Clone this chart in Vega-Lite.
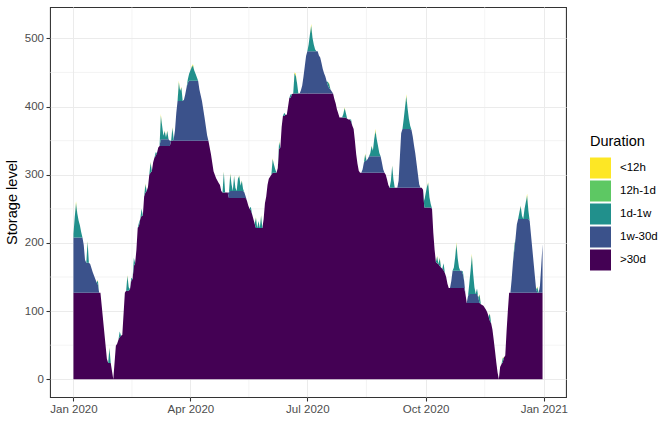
{
  "$schema": "https://vega.github.io/schema/vega-lite/v6.json",
  "autosize": {"type": "none"},
  "padding": {"left": 50, "top": 7, "right": 106, "bottom": 25},
  "width": 516,
  "height": 390,
  "background": "white",
  "config": {
    "font": "Liberation Sans",
    "view": {"stroke": "#333333", "strokeWidth": 1.07},
    "axis": {
      "domain": false,
      "gridColor": "#EBEBEB",
      "gridWidth": 1.07,
      "tickColor": "#333333",
      "tickWidth": 1.07,
      "tickSize": 4,
      "labelColor": "#4D4D4D",
      "labelFontSize": 11.5,
      "labelFont": "Liberation Sans",
      "labelFlush": false,
      "titleColor": "#000000",
      "titleFontSize": 14.6,
      "titleFontWeight": "normal",
      "titleFont": "Liberation Sans"
    },
    "legend": {
      "orient": "none",
      "legendX": 540,
      "legendY": 128,
      "symbolType": "square",
      "symbolSize": 441,
      "symbolStrokeWidth": 0,
      "symbolOpacity": 1,
      "rowPadding": 2,
      "labelOffset": 9,
      "labelFontSize": 11.5,
      "labelColor": "#000000",
      "labelFont": "Liberation Sans",
      "titleFontSize": 14.5,
      "titleFontWeight": "normal",
      "titleColor": "#000000",
      "titleFont": "Liberation Sans",
      "titlePadding": 8
    }
  },
  "layer": [
    {
      "data": {"values": [
        {"t": "2020-02-15T12:00:00Z"},
        {"t": "2020-05-16T12:00:00Z"},
        {"t": "2020-08-16T00:00:00Z"},
        {"t": "2020-11-16T00:00:00Z"}
      ]},
      "mark": {"type": "rule", "color": "#EBEBEB", "strokeWidth": 0.53},
      "encoding": {
        "x": {
          "field": "t",
          "type": "temporal",
          "scale": {"type": "utc", "domain": [
            {"year": 2019, "month": 12, "date": 13, "hours": 18, "utc": true},
            {"year": 2021, "month": 1, "date": 18, "hours": 6, "utc": true}
          ]},
          "axis": {"title": null, "format": "%b %Y", "tickCount": {"interval": "month", "step": 3}, "labelPadding": 2}
        }
      }
    },
    {
      "data": {"values": [{"y": 50}, {"y": 150}, {"y": 250}, {"y": 350}, {"y": 450}]},
      "mark": {"type": "rule", "color": "#EBEBEB", "strokeWidth": 0.53},
      "encoding": {
        "y": {
          "field": "y",
          "type": "quantitative",
          "scale": {"domain": [-26, 546], "nice": false, "zero": false},
          "axis": {"title": "Storage level", "values": [0, 100, 200, 300, 400, 500], "labelPadding": 2.5, "titlePadding": 5}
        }
      }
    },
    {
      "data": {"values": [
{"t":"2020-01-01","a":127,"b":81,"c":5,"d":0,"e":0},
{"t":"2020-01-02","a":127,"b":81,"c":30,"d":0,"e":0},
{"t":"2020-01-03","a":127,"b":81,"c":50,"d":1,"e":2},
{"t":"2020-01-04","a":127,"b":81,"c":35,"d":0,"e":0},
{"t":"2020-01-05","a":127,"b":81,"c":25,"d":0,"e":0},
{"t":"2020-01-06","a":127,"b":81,"c":18,"d":0,"e":0},
{"t":"2020-01-07","a":127,"b":81,"c":8,"d":0,"e":0},
{"t":"2020-01-08","a":127,"b":81,"c":0,"d":0,"e":0},
{"t":"2020-01-09","a":127,"b":70,"c":0,"d":0,"e":0},
{"t":"2020-01-10","a":127,"b":48,"c":0,"d":0,"e":0},
{"t":"2020-01-11","a":127,"b":44,"c":0,"d":0,"e":0},
{"t":"2020-01-12","a":127,"b":44,"c":31,"d":0,"e":1},
{"t":"2020-01-13","a":127,"b":44,"c":0,"d":0,"e":0},
{"t":"2020-01-14","a":127,"b":42,"c":0,"d":0,"e":0},
{"t":"2020-01-16","a":127,"b":30,"c":0,"d":0,"e":0},
{"t":"2020-01-18","a":127,"b":20,"c":0,"d":0,"e":0},
{"t":"2020-01-19","a":127,"b":15,"c":0,"d":0,"e":0},
{"t":"2020-01-20","a":127,"b":12,"c":6,"d":0,"e":1},
{"t":"2020-01-21","a":127,"b":0,"c":0,"d":0,"e":0},
{"t":"2020-01-22","a":127,"b":0,"c":0,"d":0,"e":0},
{"t":"2020-01-27","a":30,"b":0,"c":0,"d":0,"e":0},
{"t":"2020-01-28","a":24,"b":0,"c":0,"d":0,"e":0},
{"t":"2020-01-29","a":24,"b":0,"c":22,"d":0,"e":1},
{"t":"2020-01-30","a":24,"b":0,"c":0,"d":0,"e":0},
{"t":"2020-02-01","a":0,"b":0,"c":0,"d":0,"e":0},
{"t":"2020-02-03","a":49,"b":0,"c":0,"d":0,"e":0},
{"t":"2020-02-04","a":52,"b":0,"c":0,"d":0,"e":0},
{"t":"2020-02-05","a":58,"b":0,"c":0,"d":0,"e":0},
{"t":"2020-02-06","a":62,"b":0,"c":8,"d":0,"e":0},
{"t":"2020-02-07","a":64,"b":0,"c":0,"d":0,"e":0},
{"t":"2020-02-08","a":65,"b":0,"c":0,"d":0,"e":0},
{"t":"2020-02-10","a":127,"b":0,"c":0,"d":0,"e":0},
{"t":"2020-02-11","a":130,"b":0,"c":0,"d":0,"e":0},
{"t":"2020-02-12","a":130,"b":0,"c":22,"d":0,"e":1},
{"t":"2020-02-13","a":130,"b":0,"c":5,"d":0,"e":0},
{"t":"2020-02-14","a":132,"b":0,"c":0,"d":0,"e":0},
{"t":"2020-02-15","a":145,"b":0,"c":4,"d":0,"e":0},
{"t":"2020-02-16","a":147,"b":0,"c":0,"d":0,"e":0},
{"t":"2020-02-17","a":166,"b":0,"c":12,"d":0,"e":0},
{"t":"2020-02-18","a":170,"b":0,"c":0,"d":0,"e":0},
{"t":"2020-02-19","a":190,"b":0,"c":0,"d":0,"e":0},
{"t":"2020-02-20","a":222,"b":0,"c":0,"d":0,"e":0},
{"t":"2020-02-21","a":225,"b":0,"c":5,"d":0,"e":0},
{"t":"2020-02-22","a":235,"b":0,"c":0,"d":0,"e":0},
{"t":"2020-02-23","a":240,"b":0,"c":10,"d":0,"e":0},
{"t":"2020-02-24","a":240,"b":0,"c":0,"d":0,"e":0},
{"t":"2020-02-25","a":268,"b":0,"c":0,"d":0,"e":0},
{"t":"2020-02-26","a":274,"b":0,"c":12,"d":0,"e":1},
{"t":"2020-02-27","a":276,"b":0,"c":0,"d":0,"e":0},
{"t":"2020-02-28","a":282,"b":0,"c":0,"d":0,"e":0},
{"t":"2020-02-29","a":300,"b":0,"c":0,"d":0,"e":0},
{"t":"2020-03-01","a":303,"b":0,"c":15,"d":0,"e":1},
{"t":"2020-03-02","a":305,"b":0,"c":0,"d":0,"e":0},
{"t":"2020-03-03","a":318,"b":0,"c":0,"d":0,"e":0},
{"t":"2020-03-04","a":325,"b":0,"c":0,"d":0,"e":0},
{"t":"2020-03-05","a":328,"b":0,"c":5,"d":0,"e":0},
{"t":"2020-03-06","a":332,"b":0,"c":0,"d":0,"e":0},
{"t":"2020-03-07","a":340,"b":0,"c":0,"d":0,"e":0},
{"t":"2020-03-08","a":342,"b":0,"c":0,"d":0,"e":0},
{"t":"2020-03-09","a":342,"b":10,"c":34,"d":1,"e":2},
{"t":"2020-03-10","a":342,"b":10,"c":20,"d":0,"e":0},
{"t":"2020-03-11","a":342,"b":10,"c":5,"d":0,"e":0},
{"t":"2020-03-12","a":342,"b":10,"c":12,"d":0,"e":1},
{"t":"2020-03-13","a":342,"b":10,"c":3,"d":0,"e":0},
{"t":"2020-03-14","a":342,"b":10,"c":12,"d":0,"e":1},
{"t":"2020-03-15","a":342,"b":10,"c":0,"d":0,"e":0},
{"t":"2020-03-16","a":342,"b":8,"c":0,"d":0,"e":0},
{"t":"2020-03-17","a":350,"b":0,"c":0,"d":0,"e":0},
{"t":"2020-03-18","a":350,"b":0,"c":19,"d":0,"e":1},
{"t":"2020-03-19","a":350,"b":2,"c":0,"d":0,"e":0},
{"t":"2020-03-20","a":350,"b":15,"c":0,"d":0,"e":0},
{"t":"2020-03-21","a":350,"b":40,"c":0,"d":0,"e":0},
{"t":"2020-03-22","a":350,"b":58,"c":0,"d":0,"e":0},
{"t":"2020-03-23","a":350,"b":58,"c":27,"d":1,"e":2},
{"t":"2020-03-24","a":350,"b":58,"c":15,"d":0,"e":0},
{"t":"2020-03-25","a":350,"b":58,"c":20,"d":0,"e":1},
{"t":"2020-03-26","a":350,"b":58,"c":0,"d":0,"e":0},
{"t":"2020-03-27","a":350,"b":60,"c":0,"d":0,"e":0},
{"t":"2020-03-28","a":350,"b":68,"c":0,"d":0,"e":0},
{"t":"2020-03-29","a":350,"b":78,"c":0,"d":0,"e":0},
{"t":"2020-03-30","a":350,"b":85,"c":5,"d":0,"e":0},
{"t":"2020-03-31","a":350,"b":88,"c":10,"d":0,"e":0},
{"t":"2020-04-01","a":350,"b":88,"c":15,"d":0,"e":0},
{"t":"2020-04-02","a":350,"b":88,"c":20,"d":0,"e":1},
{"t":"2020-04-03","a":350,"b":88,"c":22,"d":1,"e":1},
{"t":"2020-04-04","a":350,"b":88,"c":15,"d":0,"e":0},
{"t":"2020-04-05","a":350,"b":88,"c":10,"d":0,"e":0},
{"t":"2020-04-06","a":350,"b":88,"c":5,"d":0,"e":0},
{"t":"2020-04-07","a":350,"b":88,"c":0,"d":0,"e":0},
{"t":"2020-04-08","a":350,"b":75,"c":0,"d":0,"e":0},
{"t":"2020-04-10","a":350,"b":58,"c":0,"d":0,"e":0},
{"t":"2020-04-12","a":350,"b":34,"c":0,"d":0,"e":0},
{"t":"2020-04-14","a":350,"b":8,"c":0,"d":0,"e":0},
{"t":"2020-04-15","a":350,"b":0,"c":0,"d":0,"e":0},
{"t":"2020-04-17","a":330,"b":0,"c":0,"d":0,"e":0},
{"t":"2020-04-19","a":305,"b":0,"c":0,"d":0,"e":0},
{"t":"2020-04-21","a":295,"b":0,"c":0,"d":0,"e":0},
{"t":"2020-04-23","a":288,"b":0,"c":0,"d":0,"e":0},
{"t":"2020-04-24","a":285,"b":0,"c":0,"d":0,"e":0},
{"t":"2020-04-25","a":276,"b":0,"c":0,"d":0,"e":0},
{"t":"2020-04-26","a":274,"b":0,"c":0,"d":0,"e":0},
{"t":"2020-04-27","a":274,"b":0,"c":30,"d":0,"e":1},
{"t":"2020-04-28","a":274,"b":0,"c":0,"d":0,"e":0},
{"t":"2020-04-30","a":274,"b":0,"c":0,"d":0,"e":0},
{"t":"2020-05-01","a":266,"b":8,"c":0,"d":0,"e":0},
{"t":"2020-05-02","a":266,"b":10,"c":25,"d":0,"e":1},
{"t":"2020-05-03","a":266,"b":10,"c":10,"d":0,"e":0},
{"t":"2020-05-04","a":266,"b":10,"c":0,"d":0,"e":0},
{"t":"2020-05-05","a":266,"b":10,"c":22,"d":0,"e":1},
{"t":"2020-05-06","a":266,"b":10,"c":5,"d":0,"e":0},
{"t":"2020-05-07","a":266,"b":10,"c":0,"d":0,"e":0},
{"t":"2020-05-08","a":266,"b":10,"c":18,"d":0,"e":0},
{"t":"2020-05-09","a":266,"b":10,"c":22,"d":0,"e":1},
{"t":"2020-05-10","a":266,"b":10,"c":8,"d":0,"e":0},
{"t":"2020-05-11","a":266,"b":10,"c":15,"d":0,"e":1},
{"t":"2020-05-12","a":266,"b":10,"c":3,"d":0,"e":0},
{"t":"2020-05-13","a":266,"b":8,"c":0,"d":0,"e":0},
{"t":"2020-05-14","a":266,"b":2,"c":0,"d":0,"e":0},
{"t":"2020-05-15","a":262,"b":0,"c":0,"d":0,"e":0},
{"t":"2020-05-16","a":255,"b":0,"c":0,"d":0,"e":0},
{"t":"2020-05-17","a":250,"b":0,"c":0,"d":0,"e":0},
{"t":"2020-05-18","a":248,"b":0,"c":5,"d":0,"e":0},
{"t":"2020-05-19","a":242,"b":0,"c":0,"d":0,"e":0},
{"t":"2020-05-20","a":235,"b":0,"c":0,"d":0,"e":0},
{"t":"2020-05-21","a":228,"b":0,"c":0,"d":0,"e":0},
{"t":"2020-05-22","a":222,"b":0,"c":15,"d":0,"e":1},
{"t":"2020-05-23","a":222,"b":0,"c":0,"d":0,"e":0},
{"t":"2020-05-24","a":222,"b":0,"c":10,"d":0,"e":0},
{"t":"2020-05-25","a":222,"b":0,"c":0,"d":0,"e":0},
{"t":"2020-05-26","a":222,"b":0,"c":18,"d":0,"e":1},
{"t":"2020-05-27","a":222,"b":0,"c":0,"d":0,"e":0},
{"t":"2020-05-28","a":235,"b":0,"c":0,"d":0,"e":0},
{"t":"2020-05-29","a":258,"b":0,"c":0,"d":0,"e":0},
{"t":"2020-05-30","a":268,"b":0,"c":0,"d":0,"e":0},
{"t":"2020-05-31","a":285,"b":0,"c":0,"d":0,"e":0},
{"t":"2020-06-01","a":294,"b":0,"c":0,"d":0,"e":0},
{"t":"2020-06-02","a":297,"b":0,"c":0,"d":0,"e":0},
{"t":"2020-06-03","a":300,"b":0,"c":0,"d":0,"e":0},
{"t":"2020-06-04","a":303,"b":0,"c":20,"d":0,"e":1},
{"t":"2020-06-05","a":303,"b":0,"c":12,"d":0,"e":0},
{"t":"2020-06-06","a":303,"b":0,"c":5,"d":0,"e":0},
{"t":"2020-06-07","a":303,"b":0,"c":0,"d":0,"e":0},
{"t":"2020-06-08","a":310,"b":0,"c":0,"d":0,"e":0},
{"t":"2020-06-09","a":338,"b":0,"c":10,"d":0,"e":1},
{"t":"2020-06-10","a":340,"b":0,"c":0,"d":0,"e":0},
{"t":"2020-06-11","a":370,"b":0,"c":0,"d":0,"e":0},
{"t":"2020-06-12","a":386,"b":0,"c":0,"d":0,"e":0},
{"t":"2020-06-13","a":386,"b":0,"c":5,"d":0,"e":0},
{"t":"2020-06-14","a":388,"b":0,"c":0,"d":0,"e":0},
{"t":"2020-06-15","a":388,"b":0,"c":0,"d":0,"e":0},
{"t":"2020-06-16","a":400,"b":0,"c":0,"d":0,"e":0},
{"t":"2020-06-17","a":413,"b":0,"c":0,"d":0,"e":0},
{"t":"2020-06-18","a":413,"b":0,"c":5,"d":0,"e":0},
{"t":"2020-06-19","a":418,"b":0,"c":0,"d":0,"e":0},
{"t":"2020-06-20","a":419,"b":0,"c":0,"d":0,"e":0},
{"t":"2020-06-21","a":419,"b":0,"c":30,"d":0,"e":1},
{"t":"2020-06-22","a":419,"b":0,"c":26,"d":1,"e":2},
{"t":"2020-06-23","a":419,"b":0,"c":15,"d":0,"e":0},
{"t":"2020-06-24","a":419,"b":0,"c":0,"d":0,"e":0},
{"t":"2020-06-25","a":419,"b":0,"c":0,"d":0,"e":0},
{"t":"2020-06-26","a":419,"b":5,"c":0,"d":0,"e":0},
{"t":"2020-06-27","a":419,"b":12,"c":0,"d":0,"e":0},
{"t":"2020-06-28","a":419,"b":25,"c":0,"d":0,"e":0},
{"t":"2020-06-29","a":419,"b":40,"c":0,"d":0,"e":0},
{"t":"2020-06-30","a":419,"b":55,"c":0,"d":0,"e":0},
{"t":"2020-07-01","a":419,"b":62,"c":0,"d":0,"e":0},
{"t":"2020-07-02","a":419,"b":62,"c":10,"d":0,"e":0},
{"t":"2020-07-03","a":419,"b":62,"c":25,"d":0,"e":0},
{"t":"2020-07-04","a":419,"b":62,"c":37,"d":1,"e":2},
{"t":"2020-07-05","a":419,"b":62,"c":20,"d":0,"e":0},
{"t":"2020-07-06","a":419,"b":62,"c":10,"d":0,"e":0},
{"t":"2020-07-07","a":419,"b":62,"c":3,"d":0,"e":0},
{"t":"2020-07-08","a":419,"b":62,"c":0,"d":0,"e":0},
{"t":"2020-07-09","a":419,"b":62,"c":0,"d":0,"e":0},
{"t":"2020-07-10","a":419,"b":56,"c":0,"d":0,"e":0},
{"t":"2020-07-11","a":419,"b":53,"c":0,"d":0,"e":0},
{"t":"2020-07-12","a":419,"b":45,"c":0,"d":0,"e":0},
{"t":"2020-07-13","a":419,"b":36,"c":0,"d":0,"e":0},
{"t":"2020-07-14","a":419,"b":30,"c":0,"d":0,"e":0},
{"t":"2020-07-15","a":419,"b":25,"c":0,"d":0,"e":0},
{"t":"2020-07-16","a":419,"b":18,"c":0,"d":0,"e":0},
{"t":"2020-07-17","a":419,"b":12,"c":5,"d":0,"e":0},
{"t":"2020-07-18","a":419,"b":8,"c":6,"d":0,"e":1},
{"t":"2020-07-19","a":419,"b":6,"c":0,"d":0,"e":0},
{"t":"2020-07-20","a":419,"b":3,"c":0,"d":0,"e":0},
{"t":"2020-07-21","a":419,"b":0,"c":0,"d":0,"e":0},
{"t":"2020-07-22","a":411,"b":0,"c":0,"d":0,"e":0},
{"t":"2020-07-23","a":405,"b":0,"c":0,"d":0,"e":0},
{"t":"2020-07-24","a":396,"b":0,"c":0,"d":0,"e":0},
{"t":"2020-07-25","a":390,"b":0,"c":0,"d":0,"e":0},
{"t":"2020-07-26","a":384,"b":0,"c":0,"d":0,"e":0},
{"t":"2020-07-28","a":384,"b":0,"c":0,"d":0,"e":0},
{"t":"2020-07-29","a":384,"b":0,"c":5,"d":0,"e":0},
{"t":"2020-07-30","a":384,"b":0,"c":14,"d":0,"e":1},
{"t":"2020-07-31","a":384,"b":0,"c":6,"d":0,"e":0},
{"t":"2020-08-01","a":382,"b":0,"c":0,"d":0,"e":0},
{"t":"2020-08-02","a":381,"b":0,"c":0,"d":0,"e":0},
{"t":"2020-08-03","a":381,"b":0,"c":0,"d":0,"e":0},
{"t":"2020-08-04","a":378,"b":0,"c":3,"d":0,"e":0},
{"t":"2020-08-05","a":372,"b":0,"c":0,"d":0,"e":0},
{"t":"2020-08-06","a":367,"b":0,"c":0,"d":0,"e":0},
{"t":"2020-08-07","a":350,"b":0,"c":0,"d":0,"e":0},
{"t":"2020-08-08","a":330,"b":0,"c":0,"d":0,"e":0},
{"t":"2020-08-09","a":316,"b":0,"c":0,"d":0,"e":0},
{"t":"2020-08-10","a":306,"b":0,"c":0,"d":0,"e":0},
{"t":"2020-08-11","a":303,"b":0,"c":0,"d":0,"e":0},
{"t":"2020-08-12","a":303,"b":0,"c":0,"d":0,"e":0},
{"t":"2020-08-13","a":303,"b":5,"c":0,"d":0,"e":0},
{"t":"2020-08-14","a":303,"b":15,"c":0,"d":0,"e":0},
{"t":"2020-08-15","a":303,"b":17,"c":10,"d":0,"e":1},
{"t":"2020-08-16","a":303,"b":18,"c":0,"d":0,"e":0},
{"t":"2020-08-17","a":303,"b":20,"c":0,"d":0,"e":0},
{"t":"2020-08-18","a":303,"b":24,"c":0,"d":0,"e":0},
{"t":"2020-08-19","a":303,"b":24,"c":5,"d":0,"e":0},
{"t":"2020-08-20","a":303,"b":24,"c":15,"d":0,"e":1},
{"t":"2020-08-21","a":303,"b":24,"c":8,"d":0,"e":0},
{"t":"2020-08-22","a":303,"b":24,"c":25,"d":0,"e":0},
{"t":"2020-08-23","a":303,"b":24,"c":37,"d":1,"e":2},
{"t":"2020-08-24","a":303,"b":24,"c":25,"d":0,"e":0},
{"t":"2020-08-25","a":303,"b":24,"c":15,"d":0,"e":0},
{"t":"2020-08-26","a":303,"b":24,"c":5,"d":0,"e":0},
{"t":"2020-08-27","a":303,"b":24,"c":0,"d":0,"e":0},
{"t":"2020-08-28","a":303,"b":15,"c":0,"d":0,"e":0},
{"t":"2020-08-29","a":303,"b":5,"c":0,"d":0,"e":0},
{"t":"2020-08-30","a":303,"b":0,"c":0,"d":0,"e":0},
{"t":"2020-08-31","a":300,"b":0,"c":0,"d":0,"e":0},
{"t":"2020-09-01","a":293,"b":0,"c":0,"d":0,"e":0},
{"t":"2020-09-02","a":285,"b":0,"c":0,"d":0,"e":0},
{"t":"2020-09-03","a":281,"b":0,"c":0,"d":0,"e":0},
{"t":"2020-09-04","a":281,"b":0,"c":10,"d":0,"e":0},
{"t":"2020-09-05","a":281,"b":0,"c":32,"d":0,"e":1},
{"t":"2020-09-06","a":281,"b":0,"c":12,"d":0,"e":0},
{"t":"2020-09-07","a":281,"b":0,"c":0,"d":0,"e":0},
{"t":"2020-09-09","a":281,"b":0,"c":0,"d":0,"e":0},
{"t":"2020-09-10","a":281,"b":10,"c":0,"d":0,"e":0},
{"t":"2020-09-11","a":281,"b":45,"c":0,"d":0,"e":0},
{"t":"2020-09-12","a":281,"b":80,"c":0,"d":0,"e":0},
{"t":"2020-09-13","a":281,"b":86,"c":0,"d":0,"e":0},
{"t":"2020-09-14","a":281,"b":86,"c":15,"d":0,"e":0},
{"t":"2020-09-15","a":281,"b":86,"c":32,"d":0,"e":0},
{"t":"2020-09-16","a":281,"b":86,"c":48,"d":1,"e":2},
{"t":"2020-09-17","a":281,"b":86,"c":30,"d":0,"e":0},
{"t":"2020-09-18","a":281,"b":86,"c":15,"d":0,"e":0},
{"t":"2020-09-19","a":281,"b":86,"c":5,"d":0,"e":0},
{"t":"2020-09-20","a":281,"b":85,"c":0,"d":0,"e":0},
{"t":"2020-09-21","a":281,"b":75,"c":0,"d":0,"e":0},
{"t":"2020-09-22","a":281,"b":62,"c":0,"d":0,"e":0},
{"t":"2020-09-23","a":281,"b":50,"c":0,"d":0,"e":0},
{"t":"2020-09-24","a":281,"b":35,"c":0,"d":0,"e":0},
{"t":"2020-09-25","a":281,"b":20,"c":0,"d":0,"e":0},
{"t":"2020-09-26","a":281,"b":5,"c":0,"d":0,"e":0},
{"t":"2020-09-27","a":281,"b":0,"c":0,"d":0,"e":0},
{"t":"2020-09-28","a":281,"b":0,"c":0,"d":0,"e":0},
{"t":"2020-09-29","a":278,"b":0,"c":0,"d":0,"e":0},
{"t":"2020-09-30","a":252,"b":0,"c":10,"d":0,"e":0},
{"t":"2020-10-01","a":252,"b":0,"c":20,"d":0,"e":0},
{"t":"2020-10-02","a":252,"b":0,"c":30,"d":0,"e":0},
{"t":"2020-10-03","a":252,"b":0,"c":36,"d":0,"e":1},
{"t":"2020-10-04","a":252,"b":0,"c":15,"d":0,"e":0},
{"t":"2020-10-05","a":252,"b":0,"c":5,"d":0,"e":0},
{"t":"2020-10-06","a":250,"b":0,"c":0,"d":0,"e":0},
{"t":"2020-10-07","a":215,"b":0,"c":0,"d":0,"e":0},
{"t":"2020-10-08","a":190,"b":0,"c":0,"d":0,"e":0},
{"t":"2020-10-09","a":172,"b":0,"c":0,"d":0,"e":0},
{"t":"2020-10-10","a":170,"b":0,"c":10,"d":0,"e":1},
{"t":"2020-10-11","a":169,"b":0,"c":0,"d":0,"e":0},
{"t":"2020-10-12","a":166,"b":0,"c":12,"d":0,"e":1},
{"t":"2020-10-13","a":164,"b":0,"c":0,"d":0,"e":0},
{"t":"2020-10-14","a":162,"b":0,"c":0,"d":0,"e":0},
{"t":"2020-10-15","a":160,"b":0,"c":10,"d":0,"e":0},
{"t":"2020-10-16","a":156,"b":0,"c":0,"d":0,"e":0},
{"t":"2020-10-17","a":150,"b":0,"c":0,"d":0,"e":0},
{"t":"2020-10-18","a":140,"b":0,"c":0,"d":0,"e":0},
{"t":"2020-10-19","a":134,"b":0,"c":0,"d":0,"e":0},
{"t":"2020-10-20","a":134,"b":0,"c":0,"d":0,"e":0},
{"t":"2020-10-21","a":134,"b":10,"c":0,"d":0,"e":0},
{"t":"2020-10-22","a":134,"b":25,"c":0,"d":0,"e":0},
{"t":"2020-10-23","a":134,"b":25,"c":5,"d":0,"e":0},
{"t":"2020-10-24","a":134,"b":25,"c":20,"d":0,"e":0},
{"t":"2020-10-25","a":134,"b":25,"c":39,"d":1,"e":2},
{"t":"2020-10-26","a":134,"b":25,"c":18,"d":0,"e":0},
{"t":"2020-10-27","a":134,"b":25,"c":5,"d":0,"e":0},
{"t":"2020-10-28","a":134,"b":25,"c":0,"d":0,"e":0},
{"t":"2020-10-29","a":134,"b":25,"c":0,"d":0,"e":0},
{"t":"2020-10-30","a":134,"b":20,"c":4,"d":0,"e":0},
{"t":"2020-10-31","a":134,"b":10,"c":0,"d":0,"e":0},
{"t":"2020-11-01","a":125,"b":0,"c":0,"d":0,"e":0},
{"t":"2020-11-02","a":112,"b":0,"c":0,"d":0,"e":0},
{"t":"2020-11-03","a":112,"b":10,"c":0,"d":0,"e":0},
{"t":"2020-11-04","a":112,"b":13,"c":15,"d":0,"e":0},
{"t":"2020-11-05","a":112,"b":13,"c":35,"d":0,"e":0},
{"t":"2020-11-06","a":112,"b":13,"c":56,"d":1,"e":2},
{"t":"2020-11-07","a":112,"b":13,"c":30,"d":0,"e":0},
{"t":"2020-11-08","a":112,"b":13,"c":10,"d":0,"e":0},
{"t":"2020-11-09","a":112,"b":13,"c":0,"d":0,"e":0},
{"t":"2020-11-10","a":112,"b":13,"c":8,"d":0,"e":0},
{"t":"2020-11-11","a":112,"b":8,"c":0,"d":0,"e":0},
{"t":"2020-11-12","a":112,"b":0,"c":12,"d":0,"e":1},
{"t":"2020-11-13","a":110,"b":0,"c":0,"d":0,"e":0},
{"t":"2020-11-14","a":109,"b":0,"c":0,"d":0,"e":0},
{"t":"2020-11-15","a":108,"b":0,"c":0,"d":0,"e":0},
{"t":"2020-11-16","a":105,"b":0,"c":0,"d":0,"e":0},
{"t":"2020-11-17","a":102,"b":0,"c":0,"d":0,"e":0},
{"t":"2020-11-18","a":98,"b":0,"c":0,"d":0,"e":0},
{"t":"2020-11-19","a":92,"b":0,"c":0,"d":0,"e":0},
{"t":"2020-11-20","a":86,"b":0,"c":10,"d":0,"e":1},
{"t":"2020-11-21","a":82,"b":0,"c":0,"d":0,"e":0},
{"t":"2020-11-22","a":73,"b":0,"c":0,"d":0,"e":0},
{"t":"2020-11-23","a":58,"b":0,"c":0,"d":0,"e":0},
{"t":"2020-11-24","a":42,"b":0,"c":0,"d":0,"e":0},
{"t":"2020-11-25","a":25,"b":0,"c":0,"d":0,"e":0},
{"t":"2020-11-26","a":10,"b":0,"c":0,"d":0,"e":0},
{"t":"2020-11-27","a":0,"b":0,"c":0,"d":0,"e":0},
{"t":"2020-11-28","a":18,"b":0,"c":0,"d":0,"e":0},
{"t":"2020-11-29","a":22,"b":0,"c":0,"d":0,"e":0},
{"t":"2020-11-30","a":25,"b":0,"c":6,"d":0,"e":1},
{"t":"2020-12-01","a":32,"b":0,"c":0,"d":0,"e":0},
{"t":"2020-12-02","a":35,"b":0,"c":0,"d":0,"e":0},
{"t":"2020-12-03","a":70,"b":0,"c":0,"d":0,"e":0},
{"t":"2020-12-04","a":100,"b":0,"c":0,"d":0,"e":0},
{"t":"2020-12-05","a":127,"b":0,"c":0,"d":0,"e":0},
{"t":"2020-12-06","a":127,"b":0,"c":0,"d":0,"e":0},
{"t":"2020-12-07","a":127,"b":20,"c":0,"d":0,"e":0},
{"t":"2020-12-08","a":127,"b":45,"c":0,"d":0,"e":0},
{"t":"2020-12-09","a":127,"b":62,"c":6,"d":0,"e":1},
{"t":"2020-12-10","a":127,"b":80,"c":0,"d":0,"e":0},
{"t":"2020-12-11","a":127,"b":100,"c":0,"d":0,"e":0},
{"t":"2020-12-12","a":127,"b":108,"c":0,"d":0,"e":0},
{"t":"2020-12-13","a":127,"b":108,"c":10,"d":0,"e":0},
{"t":"2020-12-14","a":127,"b":108,"c":19,"d":0,"e":1},
{"t":"2020-12-15","a":127,"b":108,"c":5,"d":0,"e":0},
{"t":"2020-12-16","a":127,"b":108,"c":0,"d":0,"e":0},
{"t":"2020-12-17","a":127,"b":108,"c":15,"d":0,"e":0},
{"t":"2020-12-18","a":127,"b":108,"c":25,"d":0,"e":0},
{"t":"2020-12-19","a":127,"b":108,"c":34,"d":1,"e":2},
{"t":"2020-12-20","a":127,"b":108,"c":12,"d":0,"e":0},
{"t":"2020-12-21","a":127,"b":105,"c":0,"d":0,"e":0},
{"t":"2020-12-22","a":127,"b":85,"c":0,"d":0,"e":0},
{"t":"2020-12-23","a":127,"b":65,"c":0,"d":0,"e":0},
{"t":"2020-12-24","a":127,"b":45,"c":0,"d":0,"e":0},
{"t":"2020-12-25","a":127,"b":25,"c":0,"d":0,"e":0},
{"t":"2020-12-26","a":127,"b":5,"c":0,"d":0,"e":0},
{"t":"2020-12-27","a":127,"b":0,"c":8,"d":0,"e":1},
{"t":"2020-12-28","a":127,"b":0,"c":0,"d":0,"e":0},
{"t":"2020-12-29","a":127,"b":10,"c":0,"d":0,"e":0},
{"t":"2020-12-30","a":127,"b":40,"c":0,"d":0,"e":0},
{"t":"2020-12-31","a":127,"b":71,"c":0,"d":0,"e":0}
      ]},
      "transform": [{"fold": ["a", "b", "c", "d", "e"], "as": ["k", "v"]}],
      "mark": {"type": "area", "interpolate": "linear"},
      "encoding": {
        "x": {
          "field": "t",
          "type": "temporal",
          "scale": {"type": "utc", "domain": [
            {"year": 2019, "month": 12, "date": 13, "hours": 18, "utc": true},
            {"year": 2021, "month": 1, "date": 18, "hours": 6, "utc": true}
          ]},
          "axis": {"title": null, "format": "%b %Y", "tickCount": {"interval": "month", "step": 3}, "labelPadding": 2}
        },
        "y": {
          "field": "v",
          "type": "quantitative",
          "stack": "zero",
          "scale": {"domain": [-26, 546], "nice": false, "zero": false},
          "axis": {"title": "Storage level", "values": [0, 100, 200, 300, 400, 500], "labelPadding": 2.5, "titlePadding": 5}
        },
        "color": {
          "field": "k",
          "type": "nominal",
          "scale": {"domain": ["e", "d", "c", "b", "a"], "range": ["#FDE725", "#5DC863", "#21908C", "#3B528B", "#440154"]},
          "legend": {
            "title": "Duration",
            "labelExpr": "datum.label == 'a' ? '>30d' : datum.label == 'b' ? '1w-30d' : datum.label == 'c' ? '1d-1w' : datum.label == 'd' ? '12h-1d' : '<12h'"
          }
        },
        "order": {"field": "k", "type": "ordinal", "sort": "ascending"}
      }
    }
  ]
}
